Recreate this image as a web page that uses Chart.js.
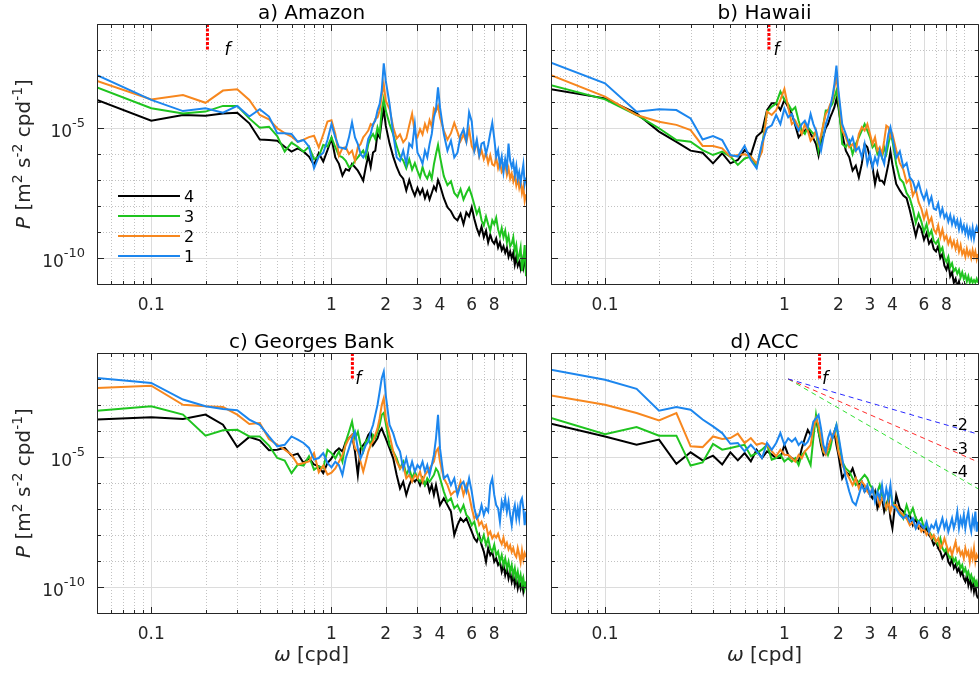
<!DOCTYPE html>
<html>
<head>
<meta charset="utf-8">
<title>Velocity spectra</title>
<script src="https://cdn.jsdelivr.net/npm/chart.js@4.4.1/dist/chart.umd.min.js"></script>
<style>
  html, body { margin: 0; padding: 0; background: #fff; }
  #fig { position: relative; width: 979px; height: 673px; overflow: hidden; }
  #fig canvas { position: absolute; }
</style>
</head>
<body>
<div id="fig">
  <canvas id="panelA" width="540" height="330" style="left:0;top:0"></canvas>
  <canvas id="panelB" width="439" height="330" style="left:540px;top:0"></canvas>
  <canvas id="panelC" width="540" height="343" style="left:0;top:330px"></canvas>
  <canvas id="panelD" width="439" height="343" style="left:540px;top:330px"></canvas>
</div>
<script>
// spectra, frequency in cpd, values are log10(P)

const freq = [
  0.05, 0.10, 0.15, 0.20, 0.25, 0.30, 0.35, 0.40, 0.45, 0.50, 0.55, 0.60, 0.65, 0.70, 0.75, 0.80, 0.85, 0.90, 0.95, 1.00,
  1.05, 1.10, 1.15, 1.20, 1.25, 1.30, 1.35, 1.40, 1.45, 1.50, 1.55, 1.60, 1.65, 1.70, 1.75, 1.80, 1.85, 1.90, 1.95, 2.00,
  2.1, 2.2, 2.3, 2.4, 2.5, 2.6, 2.7, 2.8, 2.9, 3.0, 3.1, 3.2, 3.3, 3.4, 3.5, 3.6, 3.7, 3.8, 3.9, 4.0,
  4.2, 4.4, 4.6, 4.8, 5.0, 5.2, 5.4, 5.6, 5.8, 6.0, 6.2, 6.4, 6.6, 6.8, 7.0, 7.2, 7.4, 7.6, 7.8, 8.0,
  8.2, 8.4, 8.6, 8.8, 9.0, 9.2, 9.4, 9.6, 9.8, 10.0, 10.2, 10.4, 10.6, 10.8, 11.0, 11.2, 11.4, 11.6, 11.8, 12.0
];

// a) Amazon
const amazon1 = [
  -2.97,-3.92,-4.35,-4.24,-4.41,-4.15,-4.56,-4.28,-4.56,-5.20,-5.20,-5.23,-5.53,-5.46,-5.72,-6.55,-6.10,-5.95,-5.46,-4.85,
  -5.36,-5.74,-5.77,-5.81,-5.36,-4.78,-5.36,-5.62,-6.00,-6.13,-5.94,-5.42,-5.23,-4.85,-4.72,-4.33,-4.08,-3.56,-2.51,-3.18,
  -4.08,-5.23,-6.13,-6.26,-5.87,-6.38,-5.60,-5.74,-4.85,-5.95,-6.13,-6.38,-5.87,-6.13,-5.62,-5.23,-4.59,-4.27,-3.44,-4.21,
  -5.23,-5.87,-5.49,-6.13,-5.95,-5.30,-5.05,-5.50,-4.40,-4.75,-5.87,-5.45,-6.05,-5.60,-5.55,-6.00,-5.65,-5.20,-4.80,-5.40,
  -6.10,-5.85,-6.45,-6.10,-6.70,-6.20,-6.55,-5.60,-6.25,-6.50,-6.30,-6.80,-6.45,-6.95,-6.70,-7.10,-6.75,-6.40,-7.15,-6.90
];
const amazon2 = [
  -3.19,-3.90,-3.73,-4.03,-3.56,-3.51,-3.92,-4.50,-4.67,-5.01,-5.20,-5.33,-5.53,-5.45,-5.35,-5.30,-5.75,-5.25,-4.75,-4.70,
  -5.23,-6.06,-5.77,-5.74,-6.00,-5.87,-6.26,-5.74,-5.62,-5.36,-5.23,-5.10,-4.85,-4.91,-4.65,-4.59,-4.33,-3.76,-3.31,-3.95,
  -4.27,-4.97,-5.40,-5.25,-5.55,-5.40,-4.90,-4.45,-5.20,-5.35,-5.05,-5.25,-4.85,-5.10,-4.70,-4.95,-4.25,-4.35,-4.15,-4.60,
  -5.10,-5.45,-5.20,-4.80,-5.15,-5.50,-5.25,-5.55,-5.05,-5.70,-5.90,-5.55,-6.10,-5.85,-6.20,-5.95,-6.35,-6.05,-6.40,-6.45,
  -6.15,-6.55,-6.30,-6.70,-6.60,-6.35,-6.80,-6.55,-6.95,-6.75,-7.05,-6.80,-7.20,-6.95,-7.30,-7.05,-7.50,-7.25,-7.80,-7.55
];
const amazon3 = [
  -3.44,-4.24,-4.44,-4.37,-4.15,-4.15,-4.63,-4.99,-4.95,-5.31,-5.91,-5.56,-5.72,-5.91,-5.72,-6.20,-6.10,-5.65,-5.72,-5.36,
  -5.74,-6.06,-6.13,-6.26,-6.51,-6.45,-6.26,-6.13,-6.00,-5.87,-6.13,-5.62,-5.36,-5.23,-5.42,-4.97,-5.23,-4.33,-3.88,-4.33,
  -4.85,-5.25,-5.70,-6.10,-6.25,-6.55,-6.20,-6.60,-6.35,-6.65,-6.90,-6.50,-6.80,-6.95,-6.70,-6.95,-6.40,-6.00,-5.65,-6.10,
  -6.85,-7.20,-7.05,-7.50,-7.65,-7.35,-7.75,-7.50,-7.30,-7.60,-7.95,-8.30,-8.10,-8.55,-8.75,-8.40,-8.70,-8.95,-8.55,-8.70,
  -8.45,-8.90,-9.15,-8.85,-9.20,-8.95,-9.40,-9.15,-9.55,-9.45,-9.20,-9.75,-9.50,-10.05,-9.90,-9.60,-10.50,-10.10,-9.50,-10.70
];
const amazon4 = [
  -3.92,-4.72,-4.50,-4.53,-4.44,-4.41,-4.82,-5.44,-5.46,-5.49,-5.72,-5.91,-5.78,-5.91,-6.10,-6.42,-5.97,-6.29,-5.85,-5.40,
  -6.13,-6.38,-6.83,-6.58,-6.64,-6.38,-6.51,-6.64,-6.83,-7.03,-6.50,-6.06,-6.50,-5.94,-5.87,-5.23,-5.36,-4.72,-4.27,-4.91,
  -5.60,-6.10,-6.50,-6.80,-6.95,-7.40,-7.00,-7.35,-7.60,-7.30,-7.55,-7.35,-7.70,-7.45,-7.75,-7.50,-7.25,-7.40,-7.00,-7.20,
  -7.70,-8.05,-8.20,-8.45,-8.55,-8.30,-8.70,-8.25,-8.40,-8.05,-8.50,-8.85,-9.10,-8.80,-9.20,-8.95,-9.40,-9.10,-9.35,-9.45,
  -9.25,-9.60,-9.40,-9.70,-9.55,-9.80,-9.60,-9.95,-9.75,-10.00,-9.80,-10.25,-9.95,-10.30,-10.15,-10.40,-10.05,-10.35,-9.95,-10.50
];

// b) Hawaii
const hawaii1 = [
  -2.49,-3.28,-4.37,-4.28,-4.31,-4.63,-5.44,-5.31,-5.46,-6.04,-6.10,-5.69,-6.23,-6.55,-5.59,-5.01,-4.90,-4.50,-4.85,-4.25,
  -4.59,-4.46,-4.85,-5.10,-4.85,-4.72,-4.97,-4.46,-4.85,-5.10,-5.49,-5.87,-5.36,-4.85,-4.59,-4.20,-3.82,-3.31,-2.60,-3.56,
  -4.85,-5.23,-5.62,-5.36,-5.87,-5.74,-6.13,-5.62,-6.38,-6.00,-6.51,-6.13,-6.38,-5.87,-6.13,-6.38,-5.74,-5.23,-4.97,-5.36,
  -6.15,-5.90,-6.50,-6.35,-6.90,-7.05,-7.40,-7.10,-7.50,-7.75,-7.45,-7.90,-7.65,-8.10,-8.15,-7.90,-8.35,-8.10,-8.45,-8.30,
  -8.60,-8.35,-8.70,-8.45,-8.75,-8.55,-8.90,-8.60,-8.95,-8.75,-9.05,-8.80,-9.15,-8.90,-9.20,-8.85,-9.25,-8.95,-8.80,-9.00
];
const hawaii2 = [
  -2.97,-3.79,-4.50,-4.76,-4.88,-5.08,-5.69,-5.69,-5.78,-6.10,-6.04,-6.01,-6.10,-6.36,-5.91,-4.37,-4.50,-4.31,-3.92,-3.50,
  -4.20,-4.85,-4.72,-4.97,-5.23,-4.85,-5.10,-5.49,-5.36,-5.10,-5.62,-5.29,-4.85,-4.46,-4.33,-4.08,-3.95,-3.44,-3.05,-3.69,
  -5.10,-5.36,-5.74,-5.62,-5.87,-5.23,-4.97,-5.10,-4.85,-5.23,-5.62,-5.36,-5.87,-5.74,-6.00,-5.49,-4.91,-4.97,-5.36,-5.23,
  -5.85,-6.35,-6.60,-7.10,-6.95,-7.60,-7.35,-7.85,-8.10,-8.50,-8.20,-8.65,-8.45,-8.90,-9.05,-8.75,-9.20,-8.90,-9.30,-9.15,
  -9.45,-9.25,-9.55,-9.35,-9.65,-9.40,-9.75,-9.50,-9.85,-9.70,-9.95,-9.65,-9.90,-9.75,-10.00,-9.70,-9.95,-9.75,-10.05,-9.85
];
const hawaii3 = [
  -3.35,-3.90,-4.50,-5.01,-5.46,-5.53,-5.85,-6.04,-5.91,-6.10,-6.42,-6.17,-6.10,-6.46,-5.72,-4.37,-4.18,-4.05,-3.60,-3.92,
  -4.08,-4.33,-4.20,-4.72,-5.10,-5.23,-4.97,-5.10,-5.23,-5.17,-5.87,-5.36,-4.85,-4.33,-4.33,-4.20,-4.08,-3.82,-3.56,-3.95,
  -5.62,-5.74,-5.49,-6.00,-5.62,-5.36,-5.10,-4.85,-5.10,-5.36,-5.74,-5.62,-6.00,-5.87,-6.13,-5.74,-6.00,-5.62,-5.23,-5.49,
  -6.40,-6.95,-7.10,-7.50,-7.70,-8.10,-8.65,-8.30,-8.60,-9.00,-8.70,-9.15,-8.95,-9.35,-9.45,-9.30,-9.75,-9.60,-10.00,-10.15,
  -9.95,-10.35,-10.20,-10.50,-10.40,-10.60,-10.45,-10.75,-10.55,-10.80,-10.65,-10.90,-10.70,-10.95,-10.80,-10.95,-10.85,-10.95,-10.80,-10.95
];
const hawaii4 = [
  -3.51,-3.86,-4.44,-5.14,-5.53,-5.87,-5.95,-6.36,-5.97,-6.36,-6.23,-5.85,-6.04,-5.33,-5.14,-4.31,-4.05,-4.05,-4.31,-3.92,
  -4.20,-4.46,-4.90,-5.36,-5.20,-5.10,-5.00,-5.23,-5.40,-5.62,-6.06,-5.50,-5.30,-5.00,-4.85,-4.59,-4.40,-4.20,-3.88,-4.20,
  -5.23,-5.87,-6.13,-6.64,-6.45,-6.90,-6.38,-5.62,-5.74,-6.13,-6.51,-7.15,-6.70,-7.03,-7.03,-7.15,-6.77,-6.38,-5.90,-6.40,
  -7.15,-7.40,-7.60,-7.70,-8.15,-8.65,-9.15,-8.70,-8.90,-9.30,-9.05,-9.45,-9.30,-9.65,-9.75,-9.55,-10.00,-9.85,-10.30,-10.45,
  -10.20,-10.70,-10.55,-10.95,-10.80,-11.10,-10.90,-11.20,-11.05,-11.30,-11.10,-11.40,-11.20,-11.50,-11.30,-11.50,-11.40,-11.60,-11.45,-11.60
];

// c) Georges Bank
const georges1 = [
  -1.96,-2.15,-2.79,-3.05,-3.15,-3.20,-3.56,-3.76,-4.21,-4.59,-4.53,-4.21,-4.33,-4.46,-4.65,-5.10,-5.04,-4.85,-5.23,-5.40,
  -5.18,-5.31,-5.69,-5.05,-4.67,-4.28,-4.03,-4.67,-5.05,-4.79,-4.54,-4.41,-4.03,-3.77,-3.38,-3.00,-2.49,-1.97,-1.72,-2.62,
  -3.77,-4.09,-4.54,-4.79,-5.44,-5.05,-5.56,-5.18,-5.56,-5.31,-5.44,-5.18,-5.56,-5.31,-5.69,-5.31,-4.92,-4.28,-3.38,-4.67,
  -5.82,-5.69,-6.08,-5.82,-6.46,-6.08,-5.95,-6.33,-5.82,-6.33,-6.97,-7.36,-7.23,-6.85,-7.23,-6.97,-7.10,-6.08,-5.82,-6.46,
  -6.85,-6.97,-7.49,-6.72,-6.97,-6.59,-7.10,-6.72,-7.23,-7.62,-7.10,-6.85,-7.36,-6.97,-7.36,-6.72,-6.59,-6.97,-7.62,-7.10
];
const georges2 = [
  -2.35,-2.26,-2.99,-3.05,-3.08,-3.37,-3.73,-3.69,-4.31,-4.53,-4.72,-4.91,-5.29,-5.23,-5.17,-4.85,-5.59,-5.33,-5.68,-5.60,
  -5.44,-5.18,-4.92,-4.54,-4.28,-4.15,-4.67,-4.79,-5.18,-5.56,-5.18,-4.79,-4.54,-4.41,-4.15,-3.90,-3.51,-3.00,-2.74,-3.51,
  -4.15,-4.79,-5.18,-5.44,-5.31,-5.82,-5.69,-5.95,-5.69,-5.82,-5.56,-5.95,-5.69,-5.56,-5.44,-5.31,-5.18,-4.79,-4.67,-5.18,
  -5.82,-6.08,-6.46,-6.33,-6.33,-5.95,-6.46,-6.08,-6.46,-6.97,-7.36,-7.23,-7.62,-7.49,-7.74,-7.62,-8.00,-7.87,-8.13,-8.00,
  -8.10,-7.95,-8.20,-8.35,-8.10,-8.45,-8.30,-8.55,-8.40,-8.65,-8.50,-8.75,-8.85,-8.50,-8.75,-9.05,-8.60,-8.95,-8.70,-8.85
];
const georges3 = [
  -3.22,-3.05,-3.37,-4.18,-3.97,-3.95,-4.21,-4.21,-4.56,-5.04,-5.14,-5.62,-5.29,-5.33,-4.97,-5.49,-5.36,-5.42,-4.72,-4.85,
  -5.05,-4.79,-5.18,-4.41,-4.03,-3.64,-4.28,-4.03,-4.54,-4.79,-4.41,-4.28,-4.54,-4.15,-4.28,-4.03,-3.77,-3.38,-3.30,-3.70,
  -4.54,-4.79,-5.05,-5.44,-5.18,-5.69,-5.44,-5.82,-5.56,-5.82,-5.95,-5.82,-6.08,-5.82,-5.95,-5.82,-5.69,-5.44,-5.56,-5.82,
  -6.33,-6.72,-6.59,-6.97,-6.85,-7.10,-6.85,-7.23,-7.36,-7.62,-7.49,-7.87,-8.13,-8.26,-8.00,-8.38,-8.13,-8.51,-8.64,-8.38,
  -8.77,-8.64,-9.03,-8.77,-9.15,-8.90,-9.28,-9.03,-9.41,-9.15,-9.54,-9.28,-9.67,-9.41,-9.79,-9.54,-9.92,-9.67,-10.05,-9.79
];
const georges4 = [
  -3.56,-3.47,-3.54,-3.37,-3.76,-4.62,-4.23,-4.36,-4.74,-4.72,-4.65,-4.95,-4.87,-5.23,-5.04,-5.29,-5.36,-5.62,-5.23,-5.05,
  -4.79,-4.67,-4.79,-4.41,-4.28,-4.15,-4.79,-5.69,-4.67,-4.54,-4.41,-4.15,-4.03,-4.54,-4.41,-4.28,-4.03,-3.90,-4.10,-4.28,
  -4.67,-5.05,-5.69,-6.21,-5.95,-6.46,-6.08,-5.82,-5.95,-5.82,-6.08,-5.82,-6.08,-5.95,-6.33,-6.08,-6.46,-6.08,-6.46,-6.85,
  -6.59,-6.85,-7.10,-8.00,-7.62,-7.36,-7.49,-7.36,-7.62,-7.87,-8.13,-8.26,-8.00,-8.38,-8.64,-9.03,-8.51,-8.77,-8.64,-9.03,
  -8.90,-9.15,-9.03,-9.41,-9.15,-9.54,-9.28,-9.67,-9.41,-9.79,-9.54,-9.92,-9.67,-10.05,-9.79,-10.05,-9.79,-10.18,-9.92,-10.05
];

// d) ACC
const acc1 = [
  -1.64,-2.03,-2.38,-3.22,-3.08,-3.18,-3.56,-3.82,-4.08,-4.49,-4.46,-4.78,-4.53,-4.78,-5.04,-4.46,-4.72,-4.46,-4.08,-4.53,
  -4.28,-4.41,-4.28,-4.54,-4.41,-4.54,-4.41,-4.15,-3.64,-3.51,-3.38,-3.90,-4.54,-4.79,-4.28,-4.03,-4.28,-4.03,-3.77,-4.15,
  -5.05,-5.82,-6.33,-6.72,-6.85,-6.46,-6.08,-6.33,-6.08,-6.46,-6.21,-6.72,-6.33,-6.59,-6.08,-6.72,-6.21,-6.59,-6.08,-6.85,
  -7.00,-7.23,-7.36,-7.23,-7.49,-7.36,-7.74,-7.49,-7.62,-7.74,-7.49,-7.87,-7.62,-7.74,-7.49,-7.87,-7.62,-7.36,-7.74,-7.49,
  -7.87,-7.62,-7.36,-7.74,-7.49,-7.10,-7.74,-7.36,-7.62,-7.23,-7.74,-7.36,-7.10,-7.62,-7.87,-7.36,-7.62,-7.10,-7.87,-7.49
];
const acc2 = [
  -2.63,-2.99,-3.31,-3.59,-3.31,-4.59,-4.62,-4.21,-4.31,-4.27,-4.10,-4.46,-4.27,-4.53,-4.46,-4.53,-4.78,-4.97,-4.72,-4.91,
  -4.92,-5.05,-5.18,-4.92,-5.05,-4.79,-4.67,-4.54,-3.90,-3.51,-3.77,-4.28,-4.79,-4.92,-4.67,-4.41,-4.15,-4.03,-4.28,-4.79,
  -5.31,-5.56,-5.82,-6.08,-5.82,-6.21,-5.95,-6.08,-6.33,-6.46,-6.21,-6.59,-6.46,-6.85,-6.59,-6.72,-6.97,-6.72,-7.10,-6.85,
  -6.85,-7.10,-7.23,-7.36,-7.62,-7.49,-7.74,-7.62,-7.87,-7.74,-8.00,-7.87,-8.13,-8.00,-8.26,-8.13,-8.51,-8.38,-8.13,-8.38,
  -8.64,-8.51,-8.77,-8.51,-8.26,-8.64,-8.51,-8.77,-8.64,-8.90,-8.51,-8.77,-8.64,-9.03,-8.64,-8.90,-8.51,-9.03,-8.77,-8.90
];
const acc3 = [
  -3.50,-4.12,-3.85,-4.18,-4.18,-5.33,-5.21,-4.50,-4.72,-4.65,-4.59,-4.53,-4.97,-4.85,-4.72,-4.53,-5.10,-5.04,-4.91,-5.17,
  -5.05,-5.18,-5.05,-5.31,-4.92,-4.79,-5.05,-5.31,-4.28,-3.38,-4.03,-4.41,-4.79,-4.67,-4.92,-4.67,-4.28,-4.03,-3.77,-4.28,
  -5.18,-5.44,-5.56,-5.82,-6.08,-5.95,-5.82,-5.69,-5.82,-6.08,-6.21,-6.59,-6.33,-6.08,-6.46,-6.72,-6.97,-6.59,-6.33,-6.72,
  -6.97,-7.10,-7.36,-6.85,-7.23,-6.97,-7.36,-7.49,-7.36,-7.74,-7.62,-7.87,-8.00,-8.13,-8.26,-8.38,-8.13,-8.51,-8.64,-8.51,
  -8.77,-8.90,-8.77,-9.03,-8.90,-9.15,-9.03,-9.28,-9.15,-9.41,-9.28,-9.54,-9.41,-9.67,-9.54,-9.79,-9.67,-9.92,-9.79,-10.05
];
const acc4 = [
  -3.72,-4.21,-4.53,-4.33,-5.26,-4.82,-5.13,-4.95,-5.29,-4.82,-5.13,-4.85,-5.17,-4.72,-5.04,-4.78,-4.91,-5.04,-5.04,-4.53,
  -4.92,-5.05,-5.10,-5.18,-4.67,-4.28,-3.96,-4.15,-3.90,-3.51,-4.03,-4.54,-4.92,-4.79,-4.67,-4.41,-4.28,-4.03,-4.54,-4.92,
  -5.82,-5.56,-5.69,-5.44,-5.82,-6.08,-5.95,-6.33,-6.21,-6.46,-6.59,-6.33,-6.97,-6.72,-6.59,-7.10,-6.85,-6.59,-7.36,-7.74,
  -6.46,-6.97,-7.10,-7.36,-7.23,-7.62,-7.36,-7.74,-7.62,-7.87,-7.74,-8.00,-8.13,-8.38,-8.26,-8.51,-8.64,-8.90,-8.77,-8.64,
  -9.03,-9.15,-8.90,-9.28,-9.15,-9.41,-9.28,-9.54,-9.41,-9.67,-9.79,-9.54,-9.92,-9.67,-10.05,-9.79,-10.18,-9.92,-10.31,-10.44
];

// inertial frequency f per site [cpd], marker drawn from 1e-1 down to 1e-2
const fValues = [0.205, 0.82, 1.306, 1.57];
const fMarkerTop = 1e-1;
const fMarkerBottom = 1e-2;

// reference slopes in panel d (log10 P at the two end frequencies)
const slopeFreq = [1.05, 12];
const slope2 = [-2, -4.12];
const slope3 = [-2, -5.19];
const slope4 = [-2, -6.22];
const slopeLabels = ['-2', '-3', '-4'];
const slopeLabelFreq = 8.6;

const panelTitles = ['a) Amazon', 'b) Hawaii', 'c) Georges Bank', 'd) ACC'];
const seriesLabels = ['1', '2', '3', '4'];

const xTickValues = [0.1, 1, 2, 3, 4, 6, 8];
const xTickLabels = ['0.1', '1', '2', '3', '4', '6', '8'];
const xMinorTicks = [0.05, 0.06, 0.07, 0.08, 0.09, 0.2, 0.3, 0.4, 0.5, 0.6, 0.7, 0.8, 0.9, 5, 7, 9, 10];
const yTickExps = [-10, -5];
const yMinorExps = [-11, -10, -9, -8, -7, -6, -5, -4, -3, -2, -1];

const seriesColors = ['#1c86ee', '#f7871e', '#1fc41f', '#000000'];
const slopeColors = ['#2828ff', '#ff2828', '#33e033'];

const FONT = '"DejaVu Sans", sans-serif';
const TEXT = '#262626';

function crisp(v) { return Math.round(v) + 0.5; }

function fontOf(s) { return (s.italic ? 'italic ' : '') + s.size + 'px ' + FONT; }

// draw text made of pieces (for superscripts), anchored at x by align
function drawRich(ctx, parts, x, y, align) {
  let total = 0;
  parts.forEach(s => { ctx.font = fontOf(s); s.w = ctx.measureText(s.t).width; total += s.w; });
  let cx = align === 'center' ? x - total / 2 : align === 'right' ? x - total : x;
  ctx.textAlign = 'left';
  parts.forEach(s => { ctx.font = fontOf(s); ctx.fillText(s.t, cx, y + (s.dy || 0)); cx += s.w; });
}

function framePlugin(p) {
  return {
    id: 'frame' + p.id,
    beforeDatasetsDraw(chart) {
      const { ctx, chartArea: a } = chart;
      const xs = chart.scales.x, ys = chart.scales.y;
      ctx.save();
      ctx.lineWidth = 1;
      ctx.strokeStyle = '#c2c2c2';
      ctx.setLineDash([1, 2]);
      ctx.beginPath();
      xMinorTicks.forEach(v => {
        const px = crisp(xs.getPixelForValue(v));
        ctx.moveTo(px, a.top); ctx.lineTo(px, a.bottom);
      });
      yMinorExps.forEach(e => {
        const py = crisp(ys.getPixelForValue(Math.pow(10, e)));
        ctx.moveTo(a.left, py); ctx.lineTo(a.right, py);
      });
      ctx.stroke();
      ctx.setLineDash([]);
      ctx.strokeStyle = '#dcdcdc';
      ctx.beginPath();
      xTickValues.forEach(v => {
        const px = crisp(xs.getPixelForValue(v));
        ctx.moveTo(px, a.top); ctx.lineTo(px, a.bottom);
      });
      yTickExps.forEach(e => {
        const py = crisp(ys.getPixelForValue(Math.pow(10, e)));
        ctx.moveTo(a.left, py); ctx.lineTo(a.right, py);
      });
      ctx.stroke();
      ctx.restore();
    },
    afterDatasetsDraw(chart) {
      const { ctx, chartArea: a } = chart;
      const xs = chart.scales.x, ys = chart.scales.y;
      const L = crisp(a.left), R = crisp(a.right), T = crisp(a.top), B = crisp(a.bottom);
      ctx.save();

      // box and inward ticks
      ctx.strokeStyle = TEXT;
      ctx.lineWidth = 1;
      ctx.beginPath();
      ctx.rect(L, T, R - L, B - T);
      const xt = (v, len) => {
        const px = crisp(xs.getPixelForValue(v));
        ctx.moveTo(px, B); ctx.lineTo(px, B - len);
        ctx.moveTo(px, T); ctx.lineTo(px, T + len);
      };
      const yt = (e, len) => {
        const py = crisp(ys.getPixelForValue(Math.pow(10, e)));
        ctx.moveTo(L, py); ctx.lineTo(L + len, py);
        ctx.moveTo(R, py); ctx.lineTo(R - len, py);
      };
      xMinorTicks.forEach(v => xt(v, 3.5));
      xTickValues.forEach(v => xt(v, 6.5));
      yMinorExps.forEach(e => yt(e, 3.5));
      yTickExps.forEach(e => yt(e, 6.5));
      ctx.stroke();

      // x tick labels
      ctx.fillStyle = TEXT;
      ctx.font = '17px ' + FONT;
      ctx.textAlign = 'center';
      ctx.textBaseline = 'alphabetic';
      xTickValues.forEach((v, i) => ctx.fillText(xTickLabels[i], xs.getPixelForValue(v), a.bottom + 26));

      // y tick labels and axis title (left column only)
      if (p.yLabels) {
        yTickExps.forEach(e => {
          const py = ys.getPixelForValue(Math.pow(10, e));
          drawRich(ctx, [{ t: '10', size: 17 }, { t: String(e), size: 13, dy: -10 }], a.left - 12, py + 9, 'right');
        });
        ctx.save();
        ctx.translate(a.left - 67, (a.top + a.bottom) / 2);
        ctx.rotate(-Math.PI / 2);
        drawRich(ctx, [
          { t: 'P', size: 20, italic: true }, { t: ' [m', size: 20 }, { t: '2', size: 14, dy: -8 },
          { t: ' s', size: 20 }, { t: '-2', size: 14, dy: -8 }, { t: ' cpd', size: 20 },
          { t: '-1', size: 14, dy: -8 }, { t: ']', size: 20 }
        ], 0, 0, 'center');
        ctx.restore();
      }

      // x axis title (bottom row only)
      if (p.xTitle) {
        drawRich(ctx, [{ t: '\u03c9', size: 20, italic: true }, { t: ' [cpd]', size: 20 }],
          (a.left + a.right) / 2, a.bottom + 48, 'center');
      }

      // panel title
      ctx.fillStyle = '#000';
      ctx.font = '20px ' + FONT;
      ctx.textAlign = 'center';
      ctx.fillText(p.title, (a.left + a.right) / 2, a.top - 5);

      // label of the inertial frequency marker
      ctx.font = 'italic 17px ' + FONT;
      ctx.textAlign = 'left';
      ctx.fillText('f', xs.getPixelForValue(p.f + 0.05), ys.getPixelForValue(fMarkerBottom) + 5);

      // legend (panel a)
      if (p.legend) {
        ctx.lineWidth = 2;
        ctx.font = '16px ' + FONT;
        [3, 2, 1, 0].forEach((si, row) => {
          const yy = a.top + 172 + row * 20;
          ctx.strokeStyle = seriesColors[si];
          ctx.beginPath();
          ctx.moveTo(a.left + 21, yy); ctx.lineTo(a.left + 83, yy);
          ctx.stroke();
          ctx.fillStyle = '#000';
          ctx.fillText(seriesLabels[si], a.left + 87, yy + 6);
        });
      }

      // slope labels (panel d), placed on each reference line
      if (p.slopes) {
        ctx.font = '16px ' + FONT;
        ctx.fillStyle = '#000';
        ctx.textBaseline = 'middle';
        const x0 = xs.getPixelForValue(slopeFreq[0]), x1 = xs.getPixelForValue(slopeFreq[1]);
        const lx = xs.getPixelForValue(slopeLabelFreq);
        [slope2, slope3, slope4].forEach((s, i) => {
          const y0 = ys.getPixelForValue(Math.pow(10, s[0])), y1 = ys.getPixelForValue(Math.pow(10, s[1]));
          const ly = y0 + (y1 - y0) * (lx - x0) / (x1 - x0);
          ctx.fillText(slopeLabels[i], lx, ly - 1);
        });
      }
      ctx.restore();
    }
  };
}

function toPoints(vals) {
  return freq.map((f, k) => ({ x: f, y: Math.pow(10, vals[k]) }));
}

function makePanel(p) {
  const datasets = [];
  datasets.push({
    data: [{ x: p.f, y: fMarkerTop }, { x: p.f, y: fMarkerBottom }],
    borderColor: '#ff0000', borderWidth: 3, borderDash: [3, 1.5], pointRadius: 0
  });
  if (p.slopes) {
    [slope2, slope3, slope4].forEach((s, i) => {
      datasets.push({
        data: slopeFreq.map((f, k) => ({ x: f, y: Math.pow(10, s[k]) })),
        borderColor: slopeColors[i], borderWidth: 1, borderDash: [5, 4], pointRadius: 0
      });
    });
  }
  p.series.forEach((vals, i) => {
    datasets.push({
      label: seriesLabels[i],
      data: toPoints(vals),
      borderColor: seriesColors[i],
      borderWidth: 2,
      pointRadius: 0,
      tension: 0,
      fill: false
    });
  });

  new Chart(document.getElementById(p.id), {
    type: 'line',
    data: { datasets },
    options: {
      responsive: false,
      animation: false,
      devicePixelRatio: 1,
      events: [],
      layout: { padding: p.pad },
      plugins: { legend: { display: false }, tooltip: { enabled: false } },
      scales: {
        x: {
          type: 'logarithmic', min: 0.05, max: 12, bounds: 'data',
          ticks: { display: false }, grid: { display: false }, border: { display: false },
          afterFit: s => { s.height = 0; }
        },
        y: {
          type: 'logarithmic', min: 1e-11, max: 1e-1, bounds: 'data',
          ticks: { display: false }, grid: { display: false }, border: { display: false },
          afterFit: s => { s.width = 0; }
        }
      }
    },
    plugins: [framePlugin(p)]
  });
}

const panels = [
  { id: 'panelA', title: panelTitles[0], series: [amazon1, amazon2, amazon3, amazon4], f: fValues[0],
    yLabels: true, xTitle: false, legend: true, slopes: false,
    pad: { left: 97, top: 24, right: 14, bottom: 46 } },
  { id: 'panelB', title: panelTitles[1], series: [hawaii1, hawaii2, hawaii3, hawaii4], f: fValues[1],
    yLabels: false, xTitle: false, legend: false, slopes: false,
    pad: { left: 11, top: 24, right: 1, bottom: 46 } },
  { id: 'panelC', title: panelTitles[2], series: [georges1, georges2, georges3, georges4], f: fValues[2],
    yLabels: true, xTitle: true, legend: false, slopes: false,
    pad: { left: 97, top: 23, right: 14, bottom: 60 } },
  { id: 'panelD', title: panelTitles[3], series: [acc1, acc2, acc3, acc4], f: fValues[3],
    yLabels: false, xTitle: true, legend: false, slopes: true,
    pad: { left: 11, top: 23, right: 1, bottom: 60 } }
];

panels.forEach(makePanel);
</script>
</body>
</html>
